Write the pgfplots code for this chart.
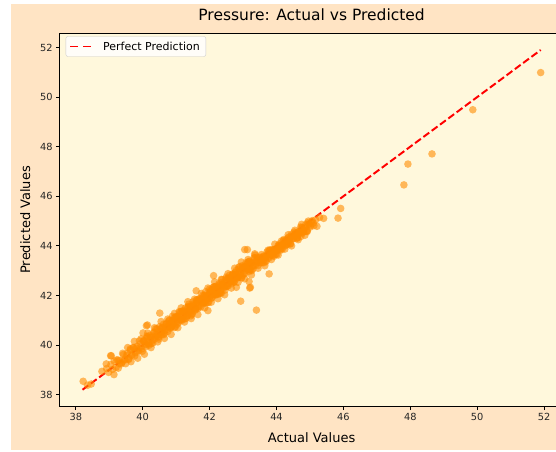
\documentclass[border=0pt]{standalone}
\usepackage{fontspec}
\setmainfont{DejaVu Sans}
\usepackage{pgfplots}
\usepackage{pgfplotstable}
\pgfplotsset{compat=1.18}
\definecolor{bisque}{RGB}{255,228,196}
\definecolor{cornsilk}{RGB}{255,248,220}
\definecolor{darkorange}{RGB}{255,140,0}
\definecolor{legendgray}{RGB}{204,204,204}

\pgfplotstableread{
x y
38.22 38.54
38.46 38.43
38.35 38.38
38.78 38.94
38.91 39.24
39.04 39.57
39.06 39.57
39.14 38.81
38.92 39.05
38.98 38.90
39.05 39.22
39.10 39.02
39.15 39.35
39.20 39.10
39.26 39.40
39.31 39.25
39.38 39.30
39.42 39.62
39.47 39.40
39.52 39.58
39.58 39.45
39.63 39.80
39.68 39.62
39.72 39.90
39.78 39.70
39.83 39.95
39.88 39.78
39.93 40.05
39.97 39.85
40.02 40.18
40.01 40.49
40.11 40.78
40.14 40.81
40.51 41.29
40.05 40.17
40.10 40.02
40.15 40.35
40.20 40.05
40.25 40.30
40.30 40.08
40.35 40.52
40.40 40.42
40.45 40.34
40.50 40.74
40.55 40.50
40.60 40.69
40.65 40.47
40.70 40.84
40.75 40.73
40.80 41.01
40.85 40.72
40.90 40.97
40.95 40.71
41.00 41.10
41.05 41.17
41.10 41.02
41.15 41.35
41.20 41.05
41.25 41.30
41.30 41.08
41.35 41.52
41.40 41.42
41.45 41.34
41.50 41.74
41.55 41.50
41.60 41.69
41.65 41.47
41.70 41.84
41.75 41.73
41.80 42.01
41.85 41.72
41.90 41.97
41.95 41.71
42.00 42.10
42.05 42.17
42.10 42.02
42.15 42.35
42.20 42.05
42.25 42.30
42.30 42.08
42.35 42.52
42.40 42.42
42.45 42.34
42.50 42.74
42.55 42.50
42.60 42.69
42.65 42.47
42.70 42.84
42.75 42.73
42.80 43.01
42.85 42.72
42.90 42.97
42.95 42.71
43.00 43.10
43.05 43.17
43.10 43.02
43.15 43.35
43.20 43.05
43.25 43.30
43.30 43.08
43.35 43.52
43.40 43.42
43.45 43.34
43.50 43.54
40.08 40.05
40.13 40.28
40.18 39.99
40.23 40.31
40.28 40.18
40.33 40.51
40.38 40.32
40.43 40.65
40.48 40.32
40.53 40.54
40.58 40.71
40.63 40.42
40.68 40.74
40.73 40.64
40.78 40.97
40.83 40.69
40.88 40.99
40.93 40.90
40.98 41.13
41.03 40.84
41.08 41.16
41.13 41.03
41.18 41.36
41.23 41.17
41.28 41.50
41.33 41.17
41.38 41.39
41.43 41.56
41.48 41.27
41.53 41.59
41.58 41.49
41.63 41.82
41.68 41.54
41.73 41.84
41.78 41.75
41.83 41.98
41.88 41.69
41.93 42.01
41.98 41.88
42.03 42.21
42.08 42.02
42.13 42.35
42.18 42.02
42.23 42.24
42.28 42.41
42.33 42.12
42.38 42.44
42.43 42.34
42.48 42.67
42.53 42.39
42.58 42.69
42.63 42.60
42.68 42.83
42.73 42.54
42.78 42.86
42.83 42.73
42.88 43.06
42.93 42.87
42.98 43.20
43.03 42.87
43.08 43.09
43.13 43.26
43.18 42.97
43.23 43.29
43.28 43.19
43.33 43.52
43.38 43.24
43.43 43.54
43.48 43.45
40.81 40.84
40.88 40.76
40.95 41.11
41.02 40.95
41.09 41.35
41.16 40.99
41.23 41.33
41.30 41.29
41.37 41.56
41.44 41.18
41.51 41.59
41.58 41.44
41.65 41.78
41.72 41.75
41.79 41.67
41.86 42.02
41.93 41.86
42.00 42.26
42.07 41.90
42.14 42.24
42.21 42.20
42.28 42.47
42.35 42.09
42.42 42.50
42.49 42.35
42.56 42.69
42.63 42.66
42.70 42.58
42.77 42.93
42.84 42.77
42.91 43.17
42.98 42.81
43.05 43.15
43.12 43.11
43.19 43.38
43.26 43.00
39.22 39.40
39.27 39.07
39.31 39.37
39.36 39.24
39.40 39.67
39.45 39.42
39.49 39.25
39.54 39.67
39.58 39.42
39.63 39.85
39.67 39.58
39.72 39.90
39.76 39.56
39.81 39.87
39.85 39.73
39.90 40.17
39.94 39.91
39.99 39.75
40.03 40.16
40.08 39.92
40.12 40.34
40.17 40.08
40.21 40.39
40.26 40.06
40.30 40.36
40.35 40.23
40.39 40.66
40.44 40.41
40.48 40.24
40.53 40.66
40.57 40.41
40.62 40.84
40.66 40.57
40.71 40.89
40.75 40.55
40.80 40.86
40.84 40.72
40.89 41.16
40.93 40.90
40.98 40.74
41.02 41.15
41.07 40.91
41.11 41.33
41.16 41.07
41.20 41.38
41.25 41.05
41.29 41.35
41.34 41.22
41.38 41.65
41.43 41.40
41.47 41.23
41.52 41.65
41.56 41.40
41.61 41.83
41.65 41.56
41.70 41.88
41.74 41.54
41.79 41.85
41.83 41.71
41.88 42.15
41.92 41.89
41.97 41.73
42.01 42.14
42.06 41.90
42.10 42.32
42.15 42.06
42.19 42.37
42.24 42.04
42.28 42.34
42.33 42.21
42.37 42.64
42.42 42.39
42.46 42.22
42.51 42.64
42.55 42.39
42.60 42.82
42.64 42.55
42.69 42.87
42.73 42.53
42.78 42.84
42.82 42.70
42.87 43.14
42.91 42.88
42.96 42.72
43.00 43.13
43.05 42.89
43.09 43.31
43.14 43.05
43.18 43.36
43.23 43.03
43.27 43.33
43.32 43.20
43.36 43.63
43.41 43.38
43.45 43.21
39.55 39.90
39.65 39.33
39.75 40.15
39.85 39.47
39.95 40.25
40.05 39.63
40.15 40.48
40.25 39.90
40.35 40.70
40.45 40.13
40.55 40.95
40.65 40.27
40.75 41.05
40.85 40.43
40.95 41.28
41.05 40.70
41.15 41.50
41.25 40.93
41.35 41.75
41.45 41.07
41.55 41.85
41.65 41.23
41.75 42.08
41.85 41.50
41.95 42.30
42.05 41.73
42.15 42.55
42.25 41.87
42.35 42.65
42.45 42.03
42.55 42.88
42.65 42.30
42.75 43.10
42.85 42.53
42.95 43.35
43.05 42.67
43.15 43.45
43.25 42.83
43.35 43.68
43.45 43.10
43.55 43.65
43.65 43.20
43.75 43.83
43.85 43.45
43.95 44.07
44.05 43.63
44.15 44.20
44.25 43.87
44.35 44.45
44.45 44.00
44.55 44.63
44.65 44.25
44.75 44.87
44.85 44.43
44.95 45.00
43.53 43.43
43.57 43.32
43.61 43.59
43.65 43.47
43.69 43.37
43.73 43.67
43.77 43.56
43.81 43.84
43.85 43.71
43.89 43.61
43.93 43.85
43.97 43.78
44.01 43.66
44.05 44.01
44.09 43.86
44.13 44.01
44.17 43.87
44.21 44.21
44.25 44.15
44.29 44.04
44.33 44.31
44.37 44.19
44.41 44.09
44.45 44.39
44.49 44.28
44.53 44.56
44.57 44.43
44.61 44.33
44.65 44.57
44.69 44.50
44.73 44.38
44.77 44.73
44.81 44.58
44.85 44.73
44.89 44.59
44.93 44.93
44.97 44.87
45.01 44.76
45.05 44.97
43.55 43.40
43.61 43.56
43.67 43.40
43.73 43.62
43.79 43.81
43.85 43.63
43.91 43.83
43.97 43.66
44.03 43.87
44.09 44.08
44.15 43.91
44.21 44.06
44.27 44.22
44.33 44.06
44.39 44.28
44.45 44.47
44.51 44.29
44.57 44.49
44.63 44.32
44.69 44.53
44.75 44.74
44.81 44.57
43.52 43.32
43.57 43.52
43.62 43.32
43.67 43.55
43.72 43.76
43.77 43.51
43.82 43.66
43.87 43.85
43.92 43.58
43.97 43.88
44.02 43.82
44.07 44.02
44.12 43.82
44.17 44.05
44.22 44.26
44.27 44.01
44.32 44.16
44.37 44.35
44.42 44.08
44.47 44.38
44.52 44.32
44.57 44.52
44.62 44.32
44.67 44.55
44.72 44.76
44.77 44.51
44.82 44.66
44.87 44.85
44.92 44.58
44.97 44.88
45.02 44.82
45.07 45.02
45.12 44.82
45.17 45.05
41.60 42.19
41.95 41.39
42.12 42.80
43.18 42.56
43.22 42.33
43.20 42.30
42.80 42.33
43.40 41.41
42.93 41.77
43.78 42.87
43.05 43.85
43.13 43.85
44.92 44.61
45.10 44.92
45.21 44.79
45.29 45.15
45.41 45.11
45.84 45.12
45.92 45.51
47.81 46.46
47.93 47.30
48.65 47.71
49.87 49.49
51.90 50.99
}\scatterdata

\begin{document}
\begin{tikzpicture}
\path[use as bounding box] (-59.6pt,-44.3pt) rectangle (496.4pt,406.7pt);
\fill[white] (-59.6pt,-44.3pt) rectangle (496.4pt,406.7pt);
\fill[bisque] (-49pt,-43.3pt) rectangle (497pt,402.4pt);
\begin{axis}[
  at={(0pt,0pt)}, anchor=south west,
  scale only axis, width=504pt, height=373.7pt,
  xmin=37.515, xmax=52.585, ymin=37.515, ymax=52.585,
  axis background/.style={fill=cornsilk},
  axis line style={line width=0.8pt, black},
  xtick={38,40,...,52}, ytick={38,40,...,52},
  tick align=outside, tick pos=left, major tick length=3.4pt,
  tick style={line width=0.8pt, black},
  ticklabel style={font=\fontsize{9.8}{11}\selectfont, text=black!85},
  /pgf/number format/assume math mode=true,
  title={Pressure: Actual vs Predicted},
  title style={font=\fontsize{15.5}{18}\selectfont, at={([yshift=6.4pt]axis description cs:0.5,1)}, anchor=base},
  xlabel={Actual Values},
  xlabel style={font=\fontsize{13}{15}\selectfont, at={([yshift=-36pt]axis description cs:0.5,0)}, anchor=base},
  ylabel={Predicted Values},
  ylabel style={font=\fontsize{13}{15}\selectfont, at={([xshift=-29.5pt]axis description cs:0,0.5)}, anchor=base, rotate=0},
  legend style={at={([xshift=6.1pt,yshift=-3.3pt]axis description cs:0,1)}, anchor=north west,
    draw=legendgray, rounded corners=2pt, fill=white, fill opacity=0.8, text opacity=1,
    font=\fontsize{11}{13}\selectfont, inner xsep=3.3pt, inner ysep=1pt,
    nodes={inner xsep=0pt, inner ysep=4.8pt, text depth=0pt}},
  legend cell align=left,
  legend image code/.code={\draw[#1, dash pattern=on 7.5pt off 5.5pt] (0pt,0pt) -- (21pt,0pt); \path (32pt,0pt);},
]
\addplot[only marks, mark=*, mark size=3.8pt, mark options={draw=darkorange, draw opacity=0, fill=darkorange, fill opacity=0.6}, forget plot] table {\scatterdata};
\addplot[red, line width=1.96pt, dash pattern=on 7.25pt off 3.1pt] coordinates {(38.2,38.2) (51.9,51.9)};
\addlegendentry{Perfect Prediction\hspace*{2.7pt}}
\end{axis}
\end{tikzpicture}
\end{document}
